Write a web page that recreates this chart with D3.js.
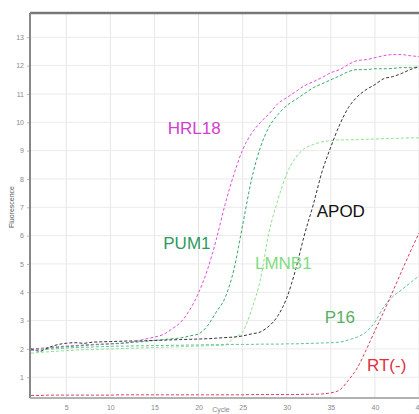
<!DOCTYPE html>
<html>
<head>
<meta charset="utf-8">
<script src="https://cdn.jsdelivr.net/npm/d3@7"></script>
<style>
  body { margin: 0; background: #fff; }
  svg { display: block; font-family: "Liberation Sans", Arial, sans-serif; }
</style>
</head>
<body>
<div class="qpcr"></div>
<script>
// cycles 1..45
let cycles = d3.range(1, 46)

// fluorescence per cycle
let hrl18 = [2.00, 2.02, 2.05, 2.08, 2.10, 2.12, 2.14, 2.16, 2.17, 2.18, 2.19, 2.22, 2.28, 2.35, 2.42,
  2.51, 2.71, 2.95, 3.38, 3.98, 4.79, 5.85, 7.09, 8.15, 9.03, 9.60, 9.99, 10.30, 10.66, 10.87,
  11.08, 11.29, 11.43, 11.58, 11.75, 11.86, 12.04, 12.18, 12.21, 12.28, 12.35, 12.39, 12.39, 12.35, 12.32]
let pum1 = [1.95, 1.98, 2.02, 2.05, 2.08, 2.10, 2.12, 2.14, 2.16, 2.18, 2.20, 2.22, 2.24, 2.27, 2.30,
  2.33, 2.36, 2.39, 2.46, 2.53, 2.81, 3.30, 3.80, 4.79, 6.37, 7.97, 9.10, 9.84, 10.27, 10.59,
  10.80, 11.01, 11.22, 11.36, 11.50, 11.64, 11.79, 11.86, 11.86, 11.89, 11.89, 11.90, 11.93, 11.93, 11.96]
let lmnb1 = [1.85, 1.88, 1.90, 1.92, 1.94, 1.96, 1.97, 1.98, 1.99, 2.00, 2.01, 2.02, 2.03, 2.04, 2.05,
  2.06, 2.07, 2.08, 2.09, 2.10, 2.11, 2.12, 2.14, 2.39, 2.60, 3.38, 4.43, 6.13, 7.26, 8.18,
  8.75, 9.07, 9.21, 9.31, 9.35, 9.38, 9.38, 9.39, 9.40, 9.41, 9.42, 9.43, 9.44, 9.45, 9.45]
let apod = [2.00, 1.92, 2.05, 2.15, 2.20, 2.22, 2.20, 2.24, 2.25, 2.26, 2.27, 2.28, 2.28, 2.29, 2.30,
  2.31, 2.32, 2.33, 2.34, 2.35, 2.36, 2.38, 2.40, 2.42, 2.46, 2.53, 2.60, 2.81, 3.17, 3.80,
  4.79, 6.02, 7.08, 8.25, 9.13, 9.91, 10.52, 10.90, 11.15, 11.33, 11.54, 11.61, 11.72, 11.86, 11.96]
let p16 = [1.95, 1.97, 1.99, 2.01, 2.03, 2.05, 2.06, 2.07, 2.08, 2.09, 2.10, 2.10, 2.11, 2.11, 2.12,
  2.12, 2.13, 2.13, 2.14, 2.14, 2.15, 2.15, 2.15, 2.16, 2.16, 2.16, 2.17, 2.17, 2.17, 2.18,
  2.18, 2.19, 2.20, 2.21, 2.22, 2.24, 2.32, 2.42, 2.60, 2.95, 3.48, 3.84, 4.08, 4.33, 4.58]
let rtNeg = [0.36, 0.36, 0.37, 0.37, 0.37, 0.37, 0.37, 0.37, 0.37, 0.37, 0.38, 0.38, 0.38, 0.38, 0.38,
  0.38, 0.38, 0.38, 0.38, 0.38, 0.38, 0.38, 0.38, 0.38, 0.38, 0.39, 0.39, 0.39, 0.39, 0.39,
  0.39, 0.40, 0.40, 0.41, 0.45, 0.55, 0.90, 1.33, 1.96, 2.64, 3.31, 4.01, 4.72, 5.42, 6.09]

let seriesNames = ["HRL18", "PUM1", "LMNB1", "APOD", "P16", "RT(-)"]
let seriesValues = [hrl18, pum1, lmnb1, apod, p16, rtNeg]
let lineColors = ["#e050e0", "#3aa868", "#90e090", "#333333", "#60c0a0", "#d8405a"]
let labelColors = ["#d040d0", "#2e9a60", "#80dc80", "#111111", "#58b060", "#e03040"]
// label anchor in chart units (cycle, fluorescence)
let labelCycle = [16.5, 16.0, 26.4, 33.4, 34.3, 39.1]
let labelValue = [9.6, 5.53, 4.83, 6.66, 2.92, 1.22]

let xTicks = [5, 10, 15, 20, 25, 30, 35, 40, 45]
let yTicks = [1, 2, 3, 4, 5, 6, 7, 8, 9, 10, 11, 12, 13]

const width = 419
const height = 414
const padLeft = 30, padTop = 13, padBottom = 398, padRight = 440

let svg = d3.select(".qpcr")
  .append("svg")
  .attr("width", width)
  .attr("height", height)

let scaleX = d3.scaleLinear().domain([1, 45]).range([31, 419])
let scaleY = d3.scaleLinear().domain([0, 13]).range([405.6, 37.3])

// grid
svg.append("g")
  .selectAll("line")
  .data(xTicks)
  .enter().append("line")
  .attr("x1", d => scaleX(d)).attr("x2", d => scaleX(d))
  .attr("y1", padTop).attr("y2", padBottom)
  .attr("stroke", "#e6e6e6")
svg.append("g")
  .selectAll("line")
  .data(yTicks)
  .enter().append("line")
  .attr("x1", padLeft).attr("x2", padRight)
  .attr("y1", d => scaleY(d)).attr("y2", d => scaleY(d))
  .attr("stroke", "#eaeaea")

// axes
let xAxis = d3.axisBottom(scaleX).tickValues(xTicks).tickSize(0).tickPadding(7)
let gx = svg.append("g")
  .attr("transform", "translate(0," + padBottom + ")")
  .call(xAxis)
gx.select(".domain").remove()
gx.selectAll("text").attr("font-size", 7).attr("fill", "#888")

let yAxis = d3.axisLeft(scaleY).tickValues(yTicks).tickSize(3).tickPadding(3)
let gy = svg.append("g")
  .attr("transform", "translate(" + padLeft + ",0)")
  .call(yAxis)
gy.select(".domain").remove()
gy.selectAll("line").attr("stroke", "#bbb")
gy.selectAll("text").attr("font-size", 7).attr("fill", "#888")

// frame
svg.append("line").attr("x1", padLeft).attr("x2", padRight).attr("y1", padTop).attr("y2", padTop)
  .attr("stroke", "#777").attr("stroke-width", 2.5)
svg.append("line").attr("x1", padLeft).attr("x2", padLeft).attr("y1", padTop).attr("y2", padBottom)
  .attr("stroke", "#888").attr("stroke-width", 2)
svg.append("line").attr("x1", padLeft).attr("x2", padRight).attr("y1", padBottom).attr("y2", padBottom)
  .attr("stroke", "#999").attr("stroke-width", 1.5)

// axis titles
svg.append("text")
  .text("Fluorescence")
  .attr("transform", "translate(14,207) rotate(-90)")
  .attr("text-anchor", "middle")
  .attr("font-size", 7)
  .attr("fill", "#555")
svg.append("text")
  .text("Cycle")
  .attr("x", 221).attr("y", 412)
  .attr("text-anchor", "middle")
  .attr("font-size", 7)
  .attr("fill", "#888")

// curves
let line = d3.line()
  .x((d, i) => scaleX(cycles[i]))
  .y(d => scaleY(d))
  .curve(d3.curveMonotoneX)

svg.append("g")
  .selectAll("path")
  .data(seriesValues)
  .enter().append("path")
  .attr("d", d => line(d))
  .attr("fill", "none")
  .attr("stroke", (d, i) => lineColors[i])
  .attr("stroke-width", 1)
  .attr("stroke-dasharray", "3,2")

// curve labels
svg.append("g")
  .selectAll("text")
  .data(seriesNames)
  .enter().append("text")
  .text(d => d)
  .attr("x", (d, i) => scaleX(labelCycle[i]))
  .attr("y", (d, i) => scaleY(labelValue[i]))
  .attr("font-size", 17)
  .attr("fill", (d, i) => labelColors[i])
</script>
</body>
</html>
